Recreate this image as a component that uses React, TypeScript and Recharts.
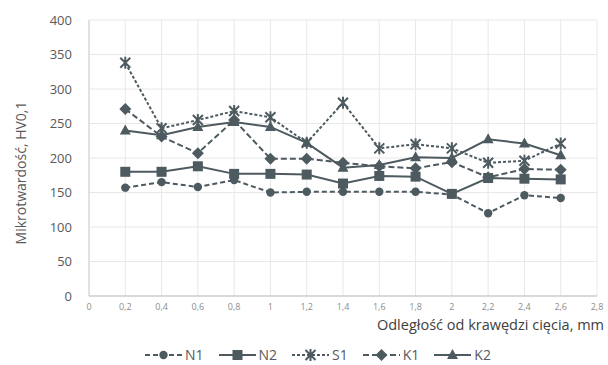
import React from 'react';
import { LineChart, Line, XAxis, YAxis, CartesianGrid } from 'recharts';

const distances = [0.2, 0.4, 0.6, 0.8, 1.0, 1.2, 1.4, 1.6, 1.8, 2.0, 2.2, 2.4, 2.6];
const n1 = [157, 165, 158, 168, 150, 151, 151, 151, 151, 147, 120, 146, 142];
const n2 = [180, 180, 188, 177, 177, 176, 163, 174, 173, 148, 171, 170, 169];
const s1 = [338, 243, 255, 268, 259, 222, 280, 214, 220, 214, 193, 196, 221];
const k1 = [271, 231, 207, 255, 199, 199, 193, 188, 185, 194, 172, 184, 183];
const k2 = [240, 233, 245, 252, 245, 222, 186, 190, 201, 200, 227, 221, 204];

const xTicks = [0, 0.2, 0.4, 0.6, 0.8, 1, 1.2, 1.4, 1.6, 1.8, 2, 2.2, 2.4, 2.6, 2.8];
const yTicks = [0, 50, 100, 150, 200, 250, 300, 350, 400];

const COLOR = '#4d5a60';
const FONT = '"Open Sans", sans-serif';

type MarkerType = 'circle' | 'square' | 'asterisk' | 'diamond' | 'triangle';

const series: { key: string; name: string; marker: MarkerType; dash?: string }[] = [
  { key: 'n1', name: 'N1', marker: 'circle', dash: '5 3' },
  { key: 'n2', name: 'N2', marker: 'square' },
  { key: 's1', name: 'S1', marker: 'asterisk', dash: '3 2' },
  { key: 'k1', name: 'K1', marker: 'diamond', dash: '6 3' },
  { key: 'k2', name: 'K2', marker: 'triangle' },
];

const data = distances.map((x, i) => ({
  x,
  n1: n1[i],
  n2: n2[i],
  s1: s1[i],
  k1: k1[i],
  k2: k2[i],
}));

const Marker = ({ cx, cy, type }: { cx: number; cy: number; type: MarkerType }) => {
  if (cx == null || cy == null) return null;
  switch (type) {
    case 'circle':
      return <circle cx={cx} cy={cy} r={4.2} fill={COLOR} />;
    case 'square':
      return <rect x={cx - 5} y={cy - 5} width={10} height={10} fill={COLOR} />;
    case 'diamond':
      return (
        <polygon
          points={`${cx},${cy - 6} ${cx + 6},${cy} ${cx},${cy + 6} ${cx - 6},${cy}`}
          fill={COLOR}
        />
      );
    case 'triangle':
      return (
        <polygon
          points={`${cx},${cy - 6} ${cx + 5.5},${cy + 4} ${cx - 5.5},${cy + 4}`}
          fill={COLOR}
        />
      );
    case 'asterisk':
      return (
        <path
          d={`M${cx - 5},${cy - 5}L${cx + 5},${cy + 5}M${cx - 5},${cy + 5}L${cx + 5},${cy - 5}M${cx},${cy - 6}L${cx},${cy + 6}`}
          stroke={COLOR}
          strokeWidth={2}
          fill="none"
        />
      );
  }
  return null;
};

const fmt = (v: number) => String(+v.toFixed(1)).replace('.', ',');

const Legend = () => (
  <div
    style={{
      position: 'absolute',
      left: 145,
      top: 345,
      display: 'flex',
      alignItems: 'center',
      fontFamily: FONT,
      fontSize: 14,
      color: '#595959',
    }}
  >
    {series.map((s) => (
      <div key={s.key} style={{ display: 'flex', alignItems: 'center', marginRight: 15 }}>
        <svg width={37} height={14}>
          <line
            x1={0}
            y1={7}
            x2={37}
            y2={7}
            stroke={COLOR}
            strokeWidth={2}
            strokeDasharray={s.dash}
          />
          <Marker cx={18.5} cy={7} type={s.marker} />
        </svg>
        <span style={{ marginLeft: 3 }}>{s.name}</span>
      </div>
    ))}
  </div>
);

export default function App() {
  return (
    <div style={{ position: 'absolute', left: 0, top: 0, width: 608, height: 365, background: '#fff' }}>
      <LineChart
        width={608}
        height={365}
        data={data}
        margin={{ top: 20, right: 11, left: 0, bottom: 0 }}
      >
        <CartesianGrid stroke="#e8e8e8" strokeWidth={1} />
        <XAxis
          dataKey="x"
          type="number"
          domain={[0, 2.8]}
          ticks={xTicks}
          tickFormatter={fmt}
          height={69}
          axisLine={{ stroke: '#bfbfbf' }}
          tickLine={false}
          tick={{ fontSize: 9, fill: '#8c8c8c', fontFamily: FONT }}
          tickMargin={2}
          interval={0}
          label={({ viewBox }: any) => (
            <text
              x={viewBox.x + viewBox.width + 7}
              y={viewBox.y + 34}
              textAnchor="end"
              fontSize={14.5}
              fontFamily={FONT}
              fill="#404040"
            >
              Odległość od krawędzi cięcia, mm
            </text>
          )}
        />
        <YAxis
          domain={[0, 400]}
          ticks={yTicks}
          width={89}
          axisLine={{ stroke: '#d0d0d0' }}
          tickLine={false}
          tickMargin={11}
          interval={0}
          tick={{ fontSize: 13, fill: '#595959', fontFamily: FONT }}
          label={({ viewBox }: any) => (
            <text
              x={20}
              y={viewBox.y + viewBox.height / 2 + 15}
              transform={`rotate(-90 20 ${viewBox.y + viewBox.height / 2 + 15})`}
              textAnchor="middle"
              dominantBaseline="central"
              fontSize={14}
              fontFamily={FONT}
              fill="#595959"
            >
              Mikrotwardość, HV0,1
            </text>
          )}
        />
        {series.map((s) => (
          <Line
            key={s.key}
            dataKey={s.key}
            name={s.name}
            type="linear"
            stroke={COLOR}
            strokeWidth={2}
            strokeDasharray={s.dash}
            isAnimationActive={false}
            dot={(p: any) => <Marker key={`${s.key}-${p.index}`} cx={p.cx} cy={p.cy} type={s.marker} />}
            activeDot={false}
          />
        ))}
      </LineChart>
      <Legend />
    </div>
  );
}
